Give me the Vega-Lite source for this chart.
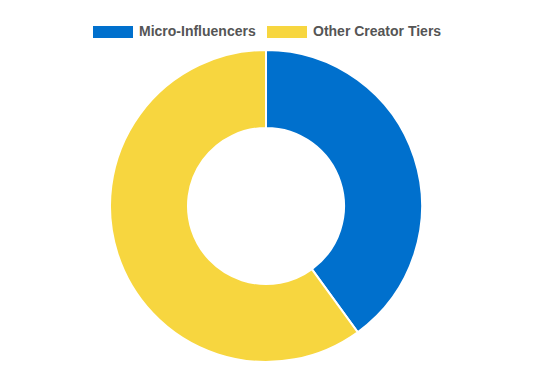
{
  "$schema": "https://vega.github.io/schema/vega-lite/v6.json",
  "autosize": {"type": "none"},
  "width": 532,
  "height": 352,
  "padding": {"left": 0, "top": 30, "right": 13, "bottom": 0},
  "background": "white",
  "data": {"values": [
    {"tier": "Micro-Influencers", "share": 40},
    {"tier": "Other Creator Tiers", "share": 60}
  ]},
  "mark": {"type": "arc", "outerRadius": 156, "innerRadius": 78, "stroke": "white", "strokeWidth": 2},
  "encoding": {
    "theta": {"field": "share", "type": "quantitative", "stack": true},
    "color": {
      "field": "tier", "type": "nominal",
      "scale": {"domain": ["Micro-Influencers", "Other Creator Tiers"], "range": ["#0070CD", "#F7D63F"]},
      "legend": {
        "title": null,
        "orient": "none",
        "direction": "horizontal",
        "legendX": 93,
        "legendY": -18,
        "symbolType": "M-1,-0.3H1V0.3H-1Z",
        "symbolSize": 1600,
        "symbolStrokeWidth": 0,
        "labelOffset": 6,
        "columnPadding": 11,
        "labelFont": "Liberation Sans",
        "labelFontSize": 14,
        "labelFontWeight": "bold",
        "labelColor": "#555555"
      }
    }
  },
  "config": {"view": {"stroke": null}}
}
